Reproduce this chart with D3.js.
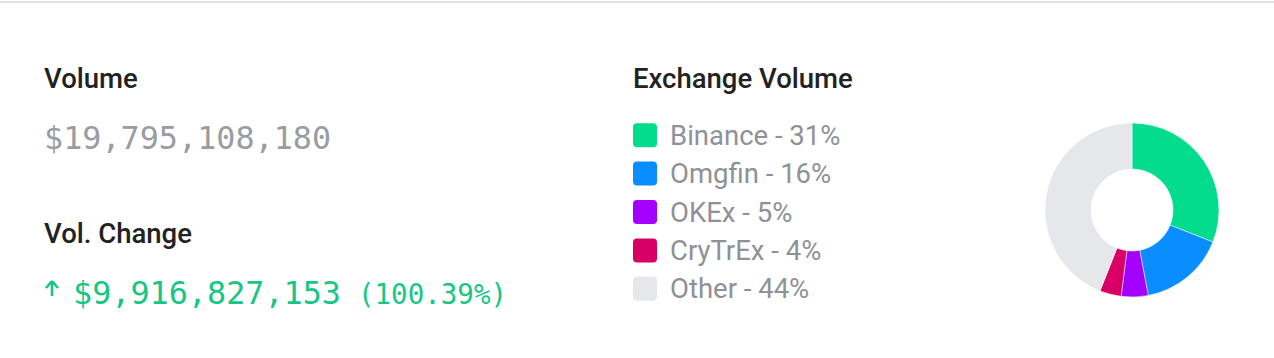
<!DOCTYPE html>
<html>
<head>
<meta charset="utf-8">
<script src="https://cdn.jsdelivr.net/npm/d3@7"></script>
<style>
    html, body { margin: 0; padding: 0; background: #fff; }
    #chart { width: 1274px; height: 358px; }
    text { font-family: Roboto, "Noto Sans", sans-serif; }
    .mono { font-family: "DejaVu Sans Mono", "Liberation Mono", monospace; }
</style>
</head>
<body>
<div id="chart"></div>
<script>
// data
const exchanges = ['Binance', 'Omgfin', 'OKEx', 'CryTrEx', 'Other'];
const shares = [31, 16, 5, 4, 44];
const colors = ['#03dc8c', '#0a8eff', '#a400ff', '#d80064', '#e6e7eb'];

const volumeLabels = ['Volume', 'Vol. Change'];
const volumeValues = [19795108180, 9916827153];
const volumeChangePct = [100.39];

const width = 1274;
const height = 358;

const svg = d3.select('#chart')
    .append('svg')
    .attr('width', width)
    .attr('height', height);

// top border
svg.append('rect')
    .attr('x', 0)
    .attr('y', 1)
    .attr('width', width)
    .attr('height', 2)
    .attr('fill', '#e3e3e3');

const money = d3.format('$,');

// left block: volume + change
const left = svg.append('g').attr('transform', 'translate(44,0)');

left.selectAll('.head')
    .data(volumeLabels)
    .join('text')
    .attr('class', 'head')
    .attr('x', 0)
    .attr('y', (d, i) => 88 + i * 155)
    .attr('font-size', 27.5)
    .attr('font-weight', 500)
    .attr('fill', '#222')
    .text(d => d);

left.append('text')
    .attr('class', 'mono')
    .attr('x', 0)
    .attr('y', 149)
    .attr('font-size', 31.8)
    .attr('fill', '#9a9ca2')
    .text(money(volumeValues[0]));

// arrow
left.append('path')
    .attr('d', 'M8,281 L2,288 M8,281 L14,288 M8,281 L8,296')
    .attr('stroke', '#16c784')
    .attr('stroke-width', 2.6)
    .attr('fill', 'none');

left.append('text')
    .attr('class', 'mono')
    .attr('x', 29)
    .attr('y', 304)
    .attr('font-size', 31.8)
    .attr('fill', '#16c784')
    .text(money(volumeValues[1]));

left.append('text')
    .attr('class', 'mono')
    .attr('x', 314)
    .attr('y', 304)
    .attr('font-size', 27.5)
    .attr('fill', '#16c784')
    .text('(' + d3.format('.2f')(volumeChangePct[0]) + '%)');

// legend
const legend = svg.append('g').attr('transform', 'translate(633,0)');

legend.append('text')
    .attr('x', 0)
    .attr('y', 88)
    .attr('font-size', 27.5)
    .attr('font-weight', 500)
    .attr('fill', '#222')
    .text('Exchange Volume');

const rowY = d3.scaleBand()
    .domain(exchanges)
    .range([116, 308]);

const rows = legend.selectAll('.row')
    .data(exchanges)
    .join('g')
    .attr('class', 'row')
    .attr('transform', d => `translate(0,${rowY(d) + rowY.bandwidth() / 2})`);

rows.append('rect')
    .attr('x', 0)
    .attr('y', -12)
    .attr('width', 24)
    .attr('height', 24)
    .attr('rx', 4)
    .attr('fill', (d, i) => colors[i]);

rows.append('text')
    .attr('x', 37)
    .attr('y', 9.5)
    .attr('font-size', 27.5)
    .attr('fill', '#8f9198')
    .text((d, i) => `${d} - ${shares[i]}%`);

// donut
const pie = d3.pie().sort(null).value(d => d);
const arc = d3.arc().innerRadius(41).outerRadius(87);

svg.append('g')
    .attr('transform', 'translate(1132,210)')
    .selectAll('path')
    .data(pie(shares))
    .join('path')
    .attr('d', arc)
    .attr('fill', (d, i) => colors[i])
    .attr('stroke', '#fff')
    .attr('stroke-width', 0.5);
</script>
</body>
</html>
